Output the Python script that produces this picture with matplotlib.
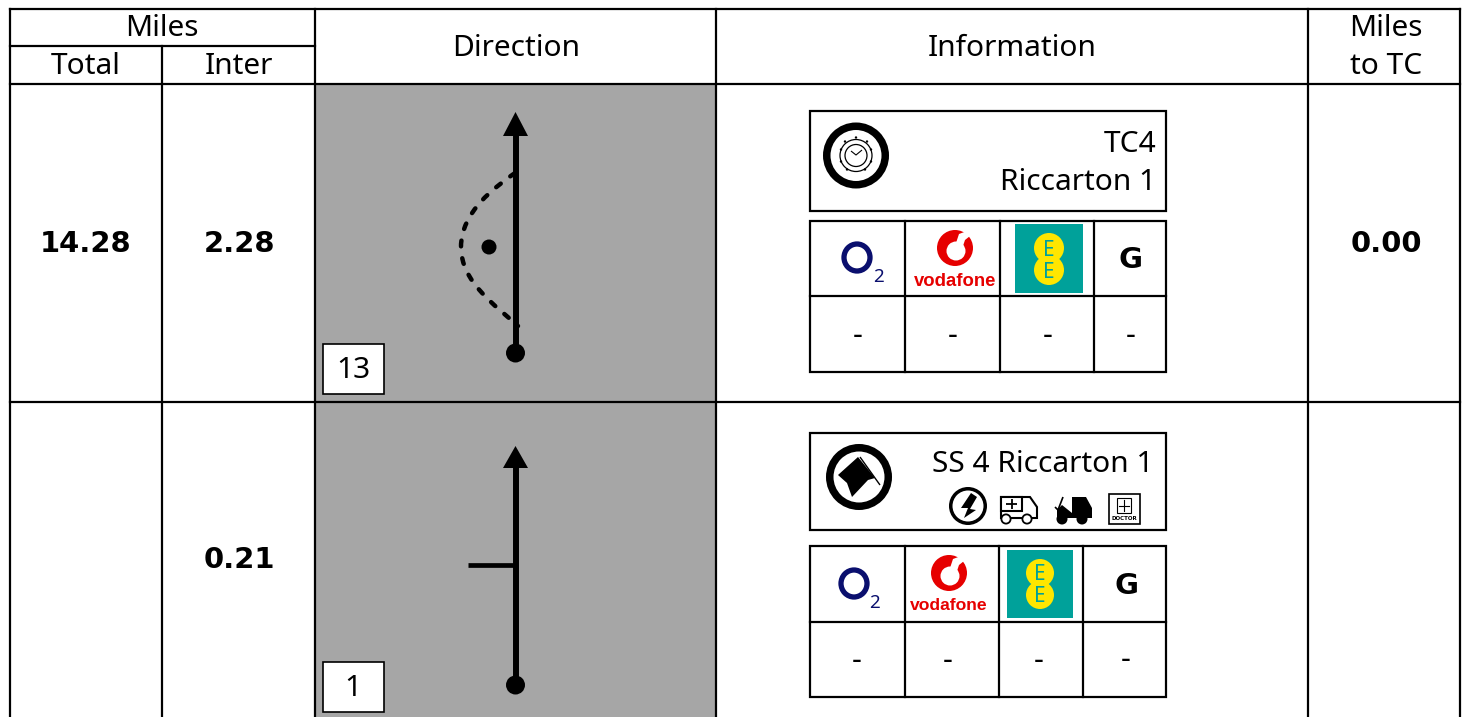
import matplotlib
matplotlib.use('Agg')
import matplotlib.pyplot as plt
from matplotlib.patches import Circle, Ellipse, Rectangle, Polygon, PathPatch
from matplotlib.path import Path

# table content
header_top = ['Miles', 'Direction', 'Information', 'Miles']
header_sub = ['Total', 'Inter', 'to TC']
total_miles = ['14.28', '']
inter_miles = ['2.28', '0.21']
miles_to_tc = ['0.00', '']
tulip_numbers = ['13', '1']
info_titles = [['TC4', 'Riccarton 1'], ['SS 4 Riccarton 1']]
network_names = ['O2', 'vodafone', 'EE', 'G']
network_signal = [['-', '-', '-', '-'], ['-', '-', '-', '-']]

BLACK = '#000000'
GREY = '#a6a6a6'
NAVY = '#0a0f6e'
RED = '#e60000'
TEAL = '#00a19a'
YELLOW = '#ffe600'
FONT = 'Noto Sans'
HEAD = 21.5
GRID = 1.6

fig = plt.figure(figsize=(14.67, 7.17), dpi=100)
ax = fig.add_axes([0, 0, 1, 1])
ax.set_xlim(0, 1467)
ax.set_ylim(717, 0)
ax.axis('off')


def line(xs, ys, lw=GRID, **kw):
    kw.setdefault('solid_capstyle', 'projecting')
    ax.plot(xs, ys, color=BLACK, lw=lw, **kw)


def label(x, y, s, size=HEAD, weight='normal', color=BLACK, ha='center', family=FONT):
    ax.text(x, y - 1.5, s, fontsize=size, fontweight=weight, color=color, ha=ha,
            va='center_baseline', family=family)


def ring(x, y, r, width, fill='white'):
    ax.add_patch(Circle((x, y), r - width / 2, fc=fill, ec=BLACK, lw=width * 0.72))


# grey direction cells
ax.add_patch(Rectangle((315, 84), 400, 633, fc=GREY, ec='none'))

# grid
for x in [10, 315, 716, 1308, 1460]:
    line([x, x], [9, 717])
line([162, 162], [46, 717])
line([10, 1460], [9, 9])
line([10, 315], [46, 46])
line([10, 1460], [84, 84])
line([10, 1460], [402, 402])

# headers
label(162, 26, header_top[0])
label(516, 46, header_top[1])
label(1012, 46, header_top[2])
label(1386, 26, header_top[3])
label(86, 64, header_sub[0])
label(239, 64, header_sub[1])
label(1386, 64, header_sub[2])

# mileage columns
for y, tot, inter, tc in zip([243, 558], total_miles, inter_miles, miles_to_tc):
    label(86, y, tot, size=20.9, weight='bold', family='DejaVu Sans')
    label(239, y, inter, size=20.9, weight='bold', family='DejaVu Sans')
    label(1386, y, tc, size=20.9, weight='bold', family='DejaVu Sans')


def arrow(tip, base, bottom):
    line([515.5, 515.5], [base, bottom], lw=4.3, solid_capstyle='butt')
    ax.add_patch(Polygon([(515.5, tip), (503, base), (528, base)], fc=BLACK, ec='none'))
    ax.add_patch(Circle((515.5, bottom), 9.5, fc=BLACK, ec='none'))


def number_box(y, s):
    ax.add_patch(Rectangle((322.5, y), 61, 50, fc='white', ec=BLACK, lw=1.2))
    label(353, y + 25, s, size=HEAD)


# first tulip: dashed bypass around a dot
arrow(112, 136, 353)
bypass = Path([(515, 173), (495, 187), (461, 212), (461, 247),
               (461, 282), (495, 305), (518, 326)],
              [Path.MOVETO, Path.CURVE4, Path.CURVE4, Path.CURVE4,
               Path.CURVE4, Path.CURVE4, Path.CURVE4])
ax.add_patch(PathPatch(bypass, fc='none', ec=BLACK, lw=3.2, ls=(0, (1.3, 2.7)), capstyle='round'))
ax.add_patch(Circle((489, 247), 7.5, fc=BLACK, ec='none'))
number_box(344, tulip_numbers[0])

# second tulip: junction on the left
arrow(446, 468, 685)
line([468, 515], [565, 565], lw=3.4, solid_capstyle='butt')
number_box(662, tulip_numbers[1])

# info boxes
ax.add_patch(Rectangle((810, 111), 356, 100, fc='white', ec=BLACK, lw=GRID))
label(1156, 142, info_titles[0][0], ha='right')
label(1156, 180, info_titles[0][1], ha='right')
ax.add_patch(Rectangle((810, 433), 356, 97, fc='white', ec=BLACK, lw=GRID))
label(1153, 462, info_titles[1][0], ha='right')

# time control icon
ring(856, 155.5, 33, 7.5)
ax.add_patch(Circle((856, 155.5), 16, fc='none', ec=BLACK, lw=0.9))
ax.add_patch(Circle((856, 155.5), 11, fc='none', ec=BLACK, lw=0.9))
line([851, 856, 862], [151, 155, 150], lw=0.8, solid_capstyle='butt')
for dx, dy in [(-11, -14), (0, -18), (11, -14), (-15, -6), (15, -6), (-15, 6), (15, 6), (-9, 14), (9, 14)]:
    ax.add_patch(Circle((856 + dx, 155.5 + dy), 1.2, fc=BLACK, ec='none'))

# stage start flag icon
ring(859, 477, 33, 7.5)
ax.add_patch(Polygon([(838, 475), (858, 457), (875, 478), (868, 480), (852, 497), (847, 483)],
                     fc=BLACK, ec='none'))
line([860, 880], [457, 485], lw=1, solid_capstyle='butt')

# service icons
ring(968, 506, 19, 3.5)
ax.add_patch(Polygon([(971, 493), (961, 508), (968, 508), (964, 518), (976, 510), (970, 509), (977, 497)],
                     fc=BLACK, ec='none'))
ambulance = [(1001, 497), (1030, 497), (1037, 507), (1037, 518), (1001, 518)]
ax.add_patch(Polygon(ambulance, fc='white', ec=BLACK, lw=1.5))
ax.add_patch(Rectangle((1001, 497), 21, 14, fc='white', ec=BLACK, lw=1.5))
line([1006, 1017], [504, 504], lw=1.3, solid_capstyle='butt')
line([1011.5, 1011.5], [499, 509], lw=1.3, solid_capstyle='butt')
ring(1006, 519, 5.5, 1.8)
ring(1027, 519, 5.5, 1.8)
ax.add_patch(Polygon([(1072, 497), (1086, 497), (1092, 508), (1092, 518), (1057, 518),
                      (1057, 510), (1062, 505), (1072, 513)], fc=BLACK, ec='none'))
ax.add_patch(Circle((1062, 519), 5.5, fc=BLACK, ec='none'))
ax.add_patch(Circle((1082, 519), 5.5, fc=BLACK, ec='none'))
line([1055, 1058, 1063], [507, 510, 497], lw=1.2, solid_capstyle='butt')
ax.add_patch(Rectangle((1109, 494), 31, 30, fc='white', ec=BLACK, lw=1.2))
ax.add_patch(Rectangle((1117, 498), 14, 15, fc='white', ec=BLACK, lw=0.8))
line([1119, 1129], [505.5, 505.5], lw=0.8)
line([1124, 1124], [500, 511], lw=0.8)
label(1124.5, 520, 'DOCTOR', size=4, weight='bold', family='DejaVu Sans')


def network_table(xs, ys, o2, voda, voda_size, ee, g, dash_y, signals):
    ax.add_patch(Rectangle((xs[0], ys[0]), xs[-1] - xs[0], ys[2] - ys[0], fc='white', ec=BLACK, lw=GRID))
    for x in xs[1:-1]:
        line([x, x], [ys[0], ys[2]])
    line([xs[0], xs[-1]], [ys[1], ys[1]])
    # O2
    ax.add_patch(Ellipse(o2, 26, 27, fc='none', ec=NAVY, lw=3.8))
    label(o2[0] + 21, o2[1] + 19, '2', size=13.5, color=NAVY, weight='bold')
    # vodafone
    vx, vy = voda
    ax.add_patch(Circle(voda, 18, fc=RED, ec='none'))
    ax.add_patch(Circle((vx + 1, vy + 3), 9.5, fc='white', ec='none'))
    ax.add_patch(Polygon([(vx + 1, vy - 5), (vx + 4, vy - 14), (vx + 12, vy - 17), (vx + 15, vy - 12),
                          (vx + 10, vy - 8), (vx + 8, vy - 2)], fc='white', ec='none'))
    label(vx, vy + 33, network_names[1], size=voda_size, weight='bold', color=RED, family='Liberation Sans')
    # EE
    x0, y0, w, h, cx, c1, c2, r = ee
    ax.add_patch(Rectangle((x0, y0), w, h, fc=TEAL, ec='none'))
    for cy in (c1, c2):
        ax.add_patch(Circle((cx, cy), r, fc=YELLOW, ec='none'))
    for cy in (c1, c2):
        label(cx, cy + 1, 'E', size=15, color=TEAL)
    # G
    label(g[0], g[1] + 1, network_names[3], size=21, weight='bold', family='DejaVu Sans')
    for (x, yd), s in zip(dash_y, signals):
        label(x, yd + 1, s, size=22, weight='bold')


network_table([810, 905, 1000, 1094, 1166], [221, 296, 372], (857, 257.5), (955, 248), 13.3,
              (1015, 224, 68, 69, 1049, 248, 270, 15), (1131, 257),
              [(858, 333), (953, 333), (1048, 333), (1131, 333)], network_signal[0])
network_table([810, 905, 999, 1083, 1166], [546, 622, 697], (854, 583.5), (949, 573), 12.6,
              (1007, 550, 66, 68, 1040, 573, 595, 14), (1126, 583),
              [(857, 658), (948, 658), (1039, 658), (1126, 657)], network_signal[1])

fig.savefig('out.png', dpi=100)
